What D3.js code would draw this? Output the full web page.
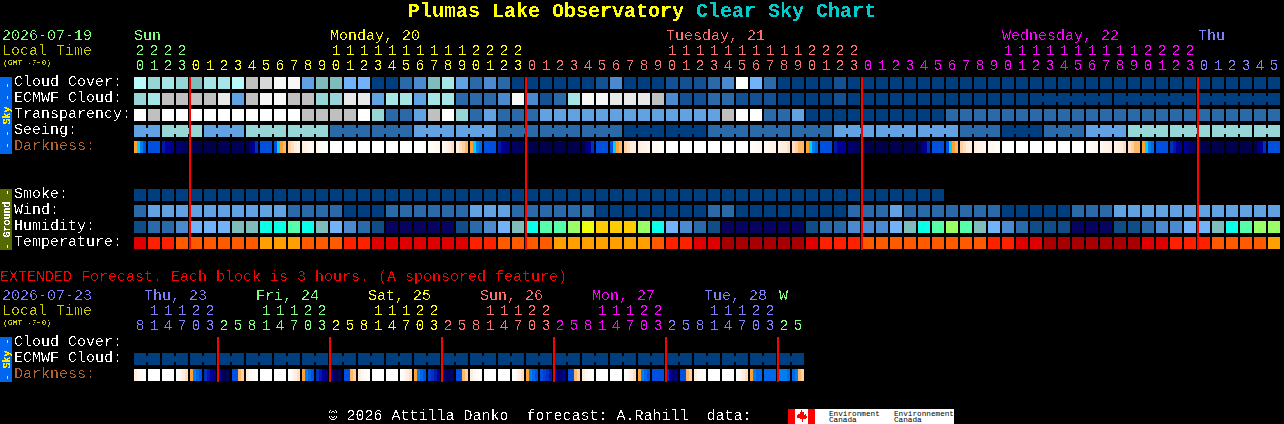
<!DOCTYPE html>
<html><head><meta charset="utf-8"><title>Plumas Lake Observatory Clear Sky Chart</title>
<script src="https://cdn.jsdelivr.net/npm/d3@7"></script>
<style>html,body{margin:0;background:#000;overflow:hidden}svg{display:block}text{font-family:"Liberation Mono",monospace;white-space:pre}</style>
</head><body><svg id="c" width="1284" height="424"></svg>
<script>
// ---------- data ----------
const skyColors=["#003f7f","#135094","#2a6aa8","#4b8ace","#61a2e2","#72b2f8","#7fbdbd","#96d6d6","#a5e5e5","#b9f9f9","#c0c0c0","#d8d8d8","#e8e8e8","#f7f7f7","#ffffff"];
const humColors=["#08035f","#104c86","#2a6aa8","#4b8ace","#72b2f8","#7fbdbd","#0bffe8","#55ffaa","#99ff66","#eeff11","#ffcc00"];
const tempColors=["#a80000","#e00000","#ff2000","#ff5a00","#ffa000"];
const darkStops=["#00004c","#000070","#000098","#0030c0","#0050e0","#0080f0","#00d0ff","#ffa030","#ffd0a0","#ffeedd","#fff8f0","#ffffff"];

const cloudCover=[9,7,8,7,6,8,8,9,10,11,13,13,4,6,6,5,5,0,0,2,3,6,8,4,2,3,2,0,0,0,0,0,0,1,3,0,0,0,1,1,1,2,3,14,5,2,0,0,0,0,1,0,
 0,0,0,0,0,0,0,0,0,0,0,0,0,0,0,0,0,0,0,0,0,0,0,0,0,0,0,0,0,0];
const ecmwfCloud=[7,8,10,10,10,10,12,4,10,13,13,10,10,7,7,12,12,4,8,8,4,8,8,2,2,2,3,13,3,1,2,8,13,13,12,12,12,10,3,1,1,2,2,1,1,1,0,0,0,0,1,0,
 0,0,0,0,0,0,0,0,0,0,0,0,0,0,0,0,0,0,0,0,0,0,0,0,0,0,0,0,0,0];
const ecmwfBlocks=[1,1,1,1,1,1,1,1,1,1,1,1,1,1,1,1,1,1,1,1,1,1,1,1,1,1,1,1,1,1,1,1,1,1,1,1,1,1,1,1,1,1,1,1,1,1,1,1,1,1,1,1,1,1,1,1,1,1,1,1,1,1,1,1,6,6,6];
const transparency=[14,10,14,14,14,14,14,14,14,14,14,14,10,10,10,10,14,7,2,2,4,10,14,7,2,4,2,2,2,4,4,4,4,4,4,4,4,4,4,4,4,4,10,14,14,2,2,4,0,0,0,0,
 0,0,0,0,0,0,2,2,2,2,2,2,2,2,2,2,2,2,2,2,2,2,2,2,2,2,2,2,2,2];
const seeingBlocks=[2,3,3,3,3,3,3,3,3,3,3,3,3,3,3,3,3,3,3,3,3,3,3,3,3,3,3,2];
const seeing=[4,7,4,7,7,2,2,4,4,2,2,2,0,0,2,2,2,4,4,4,2,0,2,4,7,7,7,7];
const smoke=[0,0,0,0,0,0,0,0,0,0,0,0,0,0,0,0,0,0,0,0,0,0,0,0,0,0,0,0,0,0,0,0,0,0,0,0,0,0,0,0,0,0,0,0,0,0,0,0,0,0,0,0,0,0,0,0,0,0];
const wind=[2,4,4,4,4,4,4,4,4,4,4,2,2,2,2,0,0,0,2,2,2,2,2,2,4,4,4,2,2,2,2,2,2,0,0,0,0,0,0,0,0,2,2,0,0,0,0,0,0,0,0,2,
 2,2,4,2,2,2,2,2,2,2,0,0,0,0,0,2,2,2,4,4,4,4,4,4,4,4,4,4,4,4];
const humidity=[1,2,2,3,4,4,4,5,5,6,6,7,6,5,4,3,2,1,0,0,0,0,0,1,2,3,4,5,6,7,7,8,9,10,10,10,8,6,4,3,2,1,0,0,0,0,0,0,1,2,2,3,
 3,3,4,5,6,7,8,7,5,4,3,2,1,1,1,0,0,0,1,1,2,3,3,4,4,5,6,7,8,8];
const temperature=[1,2,2,3,3,3,3,3,3,4,4,4,3,3,3,2,2,1,1,1,1,1,1,1,2,2,3,3,3,3,4,4,4,4,4,4,4,3,2,2,1,1,0,0,0,0,0,0,1,2,2,2,
 3,3,3,3,3,3,3,3,3,2,2,1,1,0,0,0,0,0,0,0,1,1,2,2,2,3,3,3,3,4];
const darkness=[[7,6,5,4],[4,4,4,4],[2.5,2,2,1.5],[1,1,.5,.5],[0,0,0,0],[0,0,0,0],[0,.3,.3,.3],[.3,.3,.3,.3],[0,1,2,3],[4,4,4,4],[4,6,7,7.5],[8,8.5,9,9.5],[9,9.5,10,10],[10,10.5,10.5,11],[11,11,11,11],[11,11,11,11],[11,11,11,11],[11,11,11,11],[11,11,11,11],[11,11,11,11],[11,11,11,10.5],
[10.5,10.5,10,10],[10,9.5,9,8.5],[9,8.5,8,7.5],[7,6,5,4.5],[4,4,4,4],[2.5,2,1.5,1.5],[.5,.5,.5,.5],[0,0,0,0],[0,0,0,0],[0,0,0,0],[0,0,0,0],[0,1,2,3],[4,4,4,4],[4,6,7,7.5],[8,8.5,9,9],[9,9.5,9.5,10],[10,10,10.5,10.5],[11,11,11,11],[11,11,11,11],[11,11,11,11],[11,11,11,11],[11,11,11,11],[11,11,11,11],[10.5,10.5,10,10],[10,10,9.5,9.5],[9.5,9,9,8.5],[8.5,8,7.5,7.5],
[7,6,5,4.5],[4,4,4,4],[2.5,2,2,2],[1,1,.5,.5],[0,0,0,0],[0,0,0,0],[0,0,0,0],[0,0,0,0],[0,1,2,3],[4,4,4,4],[4,6,7,7.5],[8,8.5,9,9],[9,9.5,9.5,10],[10,10,10.5,10.5],[11,11,11,11],[11,11,11,11],[11,11,11,11],[11,11,11,11],[11,11,11,11],[11,11,11,11],[10.5,10.5,10,10],[10,9.5,9.5,9],[9.5,9,9,8.5],[8.5,8,7.5,7.5],
[7,6,5,4.5],[4,4,4,4],[3,2.5,2,2],[2,1,1,.5],[0,0,0,0],[0,0,0,0],[0,0,0,0],[0,0,0,0],[0,1,2,3],[4,4,4,4]];
const extEcmwf=[0,0,0,0,0,0,0,0,0,0,0,0,0,0,0,0,0,0,0,0,0,0,0,0];
const extEcmwfBlocks=[2,2,2,2,2,2,2,2,2,2,2,2,2,2,2,2,2,2,2,2,2,2,2,2];
const extDarkness=[[9,10,10.5,11],[11,11,11,11],[11,11,11,11],[11,10,9,8.5],[7,5,4.5,4],[3,2.5,2,1.5],[1.5,.5,0,.5],[4,4,7.5,8],
[9,10,10.5,11],[11,11,11,11],[11,11,11,11],[11,10,9,8.5],[7,5,4.5,4],[3,2.5,2,1.5],[1.5,.5,0,.5],[4,4,7.5,8],
[9,10,10.5,11],[11,11,11,11],[11,11,11,11],[11,10,9,8.5],[7,5,4.5,4],[3.5,3,2.5,2],[1,.5,.5,1],[4,4,7.5,8],
[9,10,10.5,11],[11,11,11,11],[11,11,11,11],[11,10,9,8.5],[7,5,4.5,4],[4,3.5,3,2.5],[2,1,1,2],[4,4,7.5,8],
[9,10,10.5,11],[11,11,11,11],[11,11,11,11],[11,10,9,8.5],[7,5,4.5,4],[4,4,4,4],[3,2,1,1.5],[4,4,7.5,8],
[9,10,10.5,11],[11,11,11,11],[11,11,11,11],[11,10,9,8.5],[7,5,4.5,4.5],[4.5,4.5,4.5,4.5],[5,5,5,4.5],[4.5,5,7.5,8]];

const hours=[20,21,22,23,0,1,2,3,4,5,6,7,8,9,10,11,12,13,14,15,16,17,18,19,20,21,22,23,0,1,2,3,4,5,6,7,8,9,10,11,12,13,14,15,16,17,18,19,20,21,22,23,0,1,2,3,4,5,6,7,8,9,10,11,12,13,14,15,16,17,18,19,20,21,22,23,0,1,2,3,4,5];
const extHours=[8,11,14,17,20,23,2,5,8,11,14,17,20,23,2,5,8,11,14,17,20,23,2,5,8,11,14,17,20,23,2,5,8,11,14,17,20,23,2,5,8,11,14,17,20,23,2,5];
const dayLabels=[{t:"Sun",i:0,c:0},{t:"Monday, 20",i:14,c:1},{t:"Tuesday, 21",i:38,c:2},{t:"Wednesday, 22",i:62,c:3},{t:"Thu",i:76,c:4}];
const extDayLabels=[{t:"Thu, 23",i:1,c:4},{t:"Fri, 24",i:9,c:0},{t:"Sat, 25",i:17,c:1},{t:"Sun, 26",i:25,c:2},{t:"Mon, 27",i:33,c:3},{t:"Tue, 28",i:41,c:4},{t:"W",i:46,c:0,o:5}];
const dayStarts=[4,28,52,76];
const extDayStarts=[6,14,22,30,38,46];
const dayPalette=["#80ff80","#ffff00","#ff7070","#ff00ff","#8080ff"];
const extDay=[4,0,1,2,3,4,0];

// ---------- helpers ----------
const svg=d3.select("#c");
svg.append("rect").attr("width",1284).attr("height",424).attr("fill","#000");
const defs=svg.append("defs");
function aliasFilter(id,table){const f=defs.append("filter").attr("id",id).attr("filterUnits","userSpaceOnUse").attr("x",0).attr("y",0).attr("width",1284).attr("height",424).attr("color-interpolation-filters","sRGB");
f.append("feComponentTransfer").append("feFuncA").attr("type","discrete").attr("tableValues",table);}
aliasFilter("alias","0 0 0 1 1");
aliasFilter("aliasBold","0 1");
const marks=svg.append("g").attr("shape-rendering","crispEdges");
const texts=svg.append("g").attr("filter","url(#alias)");
const boldTexts=svg.append("g").attr("filter","url(#aliasBold)");
const plainTexts=svg.append("g");
function tx(s,x,y,fill,size=15,extra={},g=texts){const t=g.append("text").attr("x",x).attr("y",y).attr("fill",fill).attr("font-size",size).text(s);Object.entries(extra).forEach(([k,v])=>t.attr(k,v));return t;}

const cx=d3.scaleLinear().domain([0,1]).range([134,148]);
const sky=d3.scaleOrdinal(d3.range(skyColors.length),skyColors);
const hum=d3.scaleOrdinal(d3.range(humColors.length),humColors);
const temp=d3.scaleOrdinal(d3.range(tempColors.length),tempColors);
const dark=d3.scaleLinear().domain(d3.range(darkStops.length)).range(darkStops);

function row(vals,top,color,blocks){
  const g=marks.append("g");
  g.selectAll("rect").data(vals).join("rect").attr("x",(d,i)=>cx(i)).attr("y",top).attr("width",12).attr("height",12).attr("fill",d=>color(d));
  if(blocks){let s=0;blocks.forEach(n=>{for(let k=0;k<n-1;k++){g.append("rect").attr("x",cx(s+k)+12).attr("y",top+3).attr("width",2).attr("height",6).attr("fill",color(vals[s+k]));}s+=n;});}
}
function darkRow(vals,top){
  const g=marks.append("g");
  vals.forEach((cell,i)=>{g.selectAll(null).data(cell).join("rect").attr("x",(d,k)=>cx(i)+k*3).attr("y",top).attr("width",3).attr("height",12).attr("fill",d=>dark(d));});
}
function expand(vals,blocks){const o=[];blocks.forEach((n,b)=>{for(let k=0;k<n;k++)o.push(vals[b]);});return o;}
function redLines(starts,y0,y1){marks.append("g").selectAll("rect").data(starts).join("rect").attr("x",d=>cx(d)-1).attr("y",y0).attr("width",2).attr("height",y1-y0).attr("fill","#ff0000");}
function sidebar(y0,y1,fill,label,color){
  marks.append("rect").attr("x",0).attr("y",y0).attr("width",12).attr("height",y1-y0).attr("fill",fill);
  const c=(y0+y1)/2;
  tx(label,0,0,color,10,{"text-anchor":"middle",stroke:color,"stroke-width":0.4,transform:`translate(9.5,${c}) rotate(-90)`},boldTexts);
}

// ---------- title ----------
const tt=boldTexts.append("text").attr("x",408).attr("y",17).attr("font-size",20).attr("font-weight","bold");
tt.append("tspan").attr("fill","#ffff00").text("Plumas Lake Observatory ");
tt.append("tspan").attr("fill","#00cccc").text("Clear Sky Chart");

// ---------- main header ----------
tx("2026-07-19",2,40,dayPalette[0]);
tx("Local Time",2,55,"#cccc00");
tx("(GMT -7+0)",3,65,"#cccc00",8,{},boldTexts);
dayLabels.forEach(d=>tx(d.t,cx(d.i),40,dayPalette[d.c]));
let day=0;
hours.forEach((h,i)=>{
  if(dayStarts.includes(i))day++;
  const c=dayPalette[day];
  if(h>=10)tx(String(Math.floor(h/10)),cx(i)+6,55,c,15,{"text-anchor":"middle"});
  tx(String(h%10),cx(i)+6,70,c,15,{"text-anchor":"middle"});
});
// ---------- main rows ----------
row(cloudCover,77,sky);
row(ecmwfCloud,93,sky,ecmwfBlocks);
row(transparency,109,sky);
row(expand(seeing,seeingBlocks),125,sky,seeingBlocks);
darkRow(darkness,141);
row(smoke,189,sky);
row(wind,205,sky);
row(humidity,221,hum);
row(temperature,237,temp);
redLines(dayStarts,77,250);
[["Cloud Cover:",86],["ECMWF Cloud:",102],["Transparency:",118],["Seeing:",134]].forEach(d=>tx(d[0],14,d[1],"#ffffff"));
tx("Darkness:",14,150,"#b0622e");
[["Smoke:",198],["Wind:",214],["Humidity:",230],["Temperature:",246]].forEach(d=>tx(d[0],14,d[1],"#ffffff"));
sidebar(77,154,"#0066ee","- - Sky - -","#ffee00");
sidebar(189,250,"#556b00","- Ground -","#ffffff");

// ---------- extended ----------
tx("EXTENDED Forecast. Each block is 3 hours. (A sponsored feature)",0,281,"#ff0000");
tx("2026-07-23",2,300,dayPalette[4]);
tx("Local Time",2,315,"#cccc00");
tx("(GMT -7+0)",3,325,"#cccc00",8,{},boldTexts);
extDayLabels.forEach(d=>tx(d.t,cx(d.i)+(d.o||0)-4,300,dayPalette[d.c]));
let eday=0;
extHours.forEach((h,i)=>{
  if(extDayStarts.includes(i))eday++;
  const c=dayPalette[extDay[eday]];
  if(h>=10)tx(String(Math.floor(h/10)),cx(i)+6,315,c,15,{"text-anchor":"middle"});
  tx(String(h%10),cx(i)+6,330,c,15,{"text-anchor":"middle"});
});
row(expand(extEcmwf,extEcmwfBlocks),353,sky,extEcmwfBlocks);
darkRow(extDarkness,369);
redLines(extDayStarts,337,382);
tx("Cloud Cover:",14,346,"#ffffff");
tx("ECMWF Cloud:",14,362,"#ffffff");
tx("Darkness:",14,378,"#b0622e");
sidebar(337,382,"#0066ee","- Sky -","#ffee00");

// ---------- footer ----------
tx("\u00a9 2026 Attilla Danko  forecast: A.Rahill  data:",328.5,420,"#ffffff");
marks.append("rect").attr("x",788).attr("y",409).attr("width",166).attr("height",15).attr("fill","#fff");
marks.append("rect").attr("x",788).attr("y",409).attr("width",7).attr("height",15).attr("fill","#f00");
marks.append("rect").attr("x",808).attr("y",409).attr("width",7).attr("height",15).attr("fill","#f00");
marks.append("path").attr("d","M801.5 410l1.5 2.5 1.5-.5-.5 3 2-1 .5 1.5 1-.5-1 3-2 1-2 .5v2.5h-1V419l-2-.5-2-1-1-3 1 .5.5-1.5 2 1-.5-3 1.5.5z").attr("fill","#f00");
[[829,"Environment"],[894,"Environnement"]].forEach(d=>{tx(d[1],d[0],415.5,"#000",7.7,{},plainTexts);tx("Canada",d[0],422,"#000",7.7,{},plainTexts);});
</script></body></html>
